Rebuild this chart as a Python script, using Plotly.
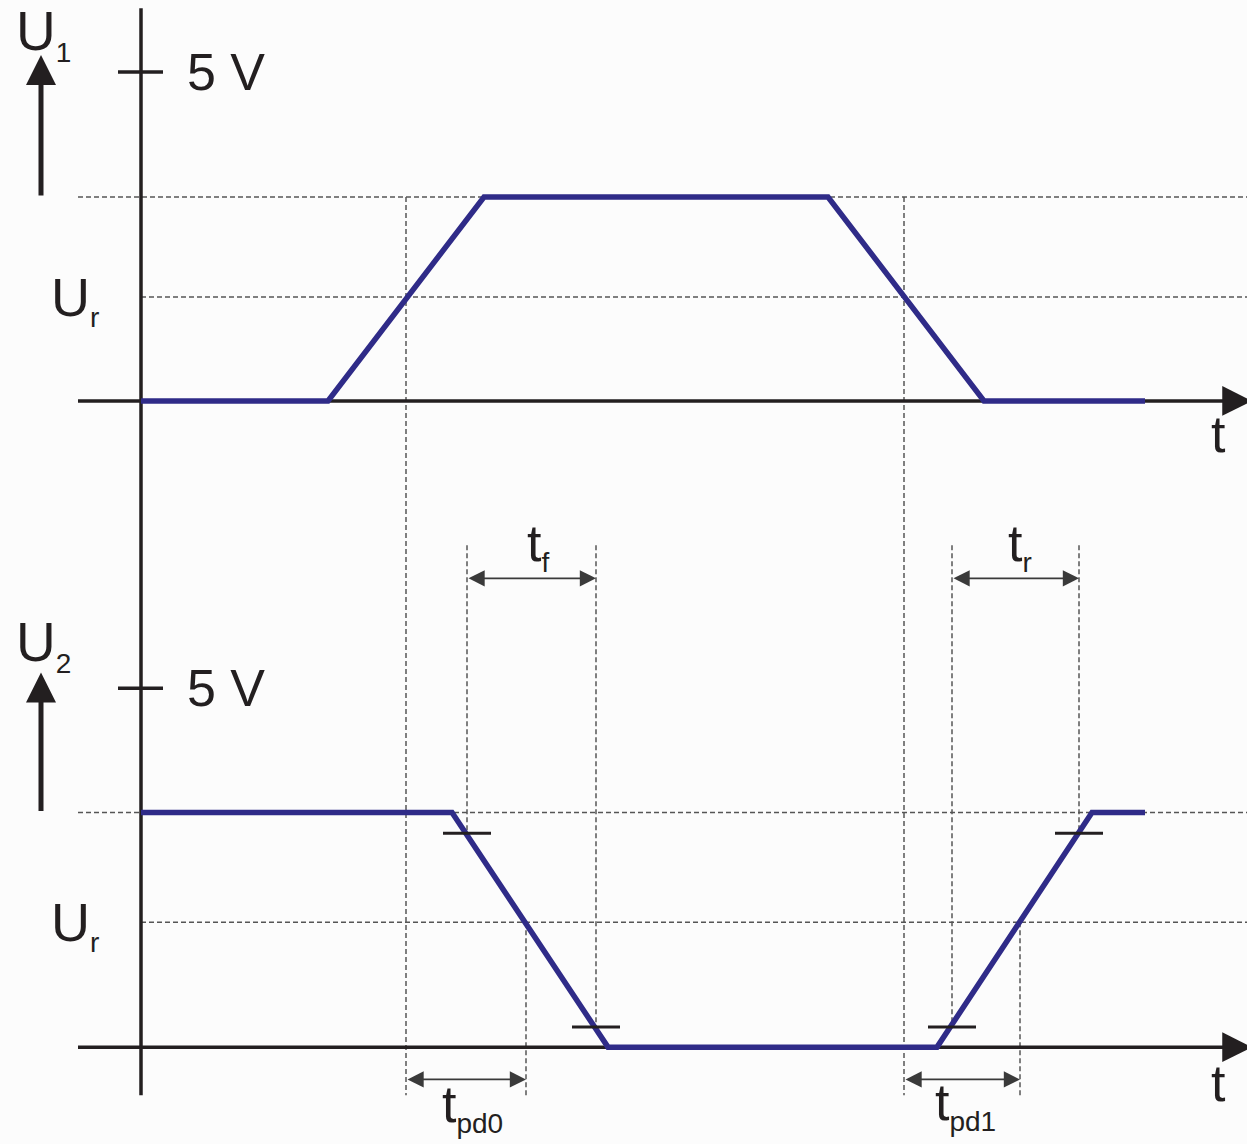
import plotly.graph_objects as go

# waveform data (time in arbitrary units, voltage in V)
T_TOP = [0, 1.87, 3.43, 6.87, 8.43, 10.04]
U1 = [0, 0, 3.1, 3.1, 0, 0]
T_BOT = [0, 3.11, 4.67, 7.96, 9.51, 10.04]
U2 = [3.27, 3.27, 0, 0, 3.27, 3.27]

U1_HIGH = 3.1
U1_REF = 1.58
U2_HIGH = 3.27
U2_REF = 1.74
U_MAX = 5
U2_90 = 2.98
U2_10 = 0.28

# crossing times
T_U1_CROSS = [2.65, 7.63]           # U1 passes Ur
T_U2_CROSS = [3.85, 8.79]           # U2 passes Ur
T_FALL = [3.26, 4.55]               # t_f: 90% -> 10%
T_RISE = [8.11, 9.38]               # t_r: 10% -> 90%
T_PD0 = [T_U1_CROSS[0], T_U2_CROSS[0]]
T_PD1 = [T_U1_CROSS[1], T_U2_CROSS[1]]

# both panels share one axis; lower panel is offset and scaled
BOT_ZERO = -9.82
BOT_GAIN = 1.091


def yb(v):
    return BOT_ZERO + BOT_GAIN * v


WAVE = '#2f2b88'
BLACK = '#231f20'
DASHC = '#555555'
GREY_ARROW = '#3a3a3a'
FONT = 'Liberation Sans, Arial, sans-serif'

X_LEFT = -0.63
X_RIGHT = 11.06

fig = go.Figure()

fig.add_trace(go.Scatter(x=T_TOP, y=U1, mode='lines',
                         line=dict(color=WAVE, width=5.5),
                         hoverinfo='skip', showlegend=False))
fig.add_trace(go.Scatter(x=T_BOT, y=[yb(v) for v in U2], mode='lines',
                         line=dict(color=WAVE, width=5.5),
                         hoverinfo='skip', showlegend=False))

shapes = []


def dashed(x0, y0, x1, y1):
    shapes.append(dict(type='line', x0=x0, y0=y0, x1=x1, y1=y1,
                       xref='x', yref='y', layer='below',
                       line=dict(color=DASHC, width=1.5, dash='5px,3px')))


def solid(x0, y0, x1, y1, width=3.5, layer='below'):
    shapes.append(dict(type='line', x0=x0, y0=y0, x1=x1, y1=y1,
                       xref='x', yref='y', layer=layer,
                       line=dict(color=BLACK, width=width)))


# horizontal guide lines
dashed(X_LEFT, U1_HIGH, X_RIGHT, U1_HIGH)
dashed(0, U1_REF, X_RIGHT, U1_REF)
dashed(X_LEFT, yb(U2_HIGH), X_RIGHT, yb(U2_HIGH))
dashed(0, yb(U2_REF), X_RIGHT, yb(U2_REF))

# vertical guide lines
ARROW_TOP_V = 6.53      # level of t_f / t_r arrows (lower panel volts)
GUIDE_TOP_V = 6.99
ARROW_BOT_V = -0.45     # level of t_pd arrows
GUIDE_BOT_V = -0.67
for t in T_U1_CROSS:
    dashed(t, U1_HIGH, t, yb(GUIDE_BOT_V))
for t in T_U2_CROSS:
    dashed(t, yb(U2_REF), t, yb(GUIDE_BOT_V))
dashed(T_FALL[0], yb(GUIDE_TOP_V), T_FALL[0], yb(U2_90))
dashed(T_FALL[1], yb(GUIDE_TOP_V), T_FALL[1], yb(U2_10))
dashed(T_RISE[0], yb(GUIDE_TOP_V), T_RISE[0], yb(U2_10))
dashed(T_RISE[1], yb(GUIDE_TOP_V), T_RISE[1], yb(U2_90))

# axes
solid(0, 5.97, 0, yb(GUIDE_BOT_V))
solid(X_LEFT, 0, X_RIGHT - 0.1, 0)
solid(X_LEFT, yb(0), X_RIGHT - 0.1, yb(0))
solid(-0.23, U_MAX, 0.22, U_MAX)
solid(-0.23, yb(U_MAX), 0.22, yb(U_MAX))

# 10% / 90% marks on U2
for t, v in [(T_FALL[0], U2_90), (T_FALL[1], U2_10),
             (T_RISE[0], U2_10), (T_RISE[1], U2_90)]:
    solid(t - 0.24, yb(v), t + 0.24, yb(v), width=3, layer='above')

annotations = []


def arrow(x, y, ax, ay, color, width, size, both=False):
    annotations.append(dict(x=x, y=y, ax=ax, ay=ay, xref='x', yref='y',
                            axref='x', ayref='y', text='', showarrow=True,
                            arrowhead=2, arrowwidth=width, arrowsize=size,
                            arrowcolor=color,
                            arrowside='end+start' if both else 'end'))


def label(x, y, text, size, anchor='center'):
    annotations.append(dict(x=x, y=y, xref='x', yref='y', text=text,
                            showarrow=False, xanchor=anchor, yanchor='middle',
                            font=dict(family=FONT, size=size, color=BLACK)))


# time axis arrowheads
arrow(X_RIGHT + 0.05, 0, X_RIGHT - 0.2, 0, BLACK, 3.5, 1.7)
arrow(X_RIGHT + 0.05, yb(0), X_RIGHT - 0.2, yb(0), BLACK, 3.5, 1.7)

# voltage arrows
arrow(-1.0, 5.26, -1.0, U1_HIGH, BLACK, 5, 1.2)
arrow(-1.0, yb(5.22), -1.0, yb(U2_HIGH), BLACK, 5, 1.2)

# timing arrows
arrow(T_FALL[1], yb(ARROW_TOP_V), T_FALL[0], yb(ARROW_TOP_V), GREY_ARROW, 1.8, 1.8, True)
arrow(T_RISE[1], yb(ARROW_TOP_V), T_RISE[0], yb(ARROW_TOP_V), GREY_ARROW, 1.8, 1.8, True)
arrow(T_PD0[1], yb(ARROW_BOT_V), T_PD0[0], yb(ARROW_BOT_V), GREY_ARROW, 1.8, 1.8, True)
arrow(T_PD1[1], yb(ARROW_BOT_V), T_PD1[0], yb(ARROW_BOT_V), GREY_ARROW, 1.8, 1.8, True)

SUB = '<sub><span style="font-size:28px">{}</span></sub>'

label(-0.98, 5.57, 'U' + SUB.format('1'), 55)
label(-0.98, yb(5.6), 'U' + SUB.format('2'), 55)
label(0.44, U_MAX, '5 V', 52, 'left')
label(0.44, yb(U_MAX), '5 V', 52, 'left')
label(-0.4, U1_REF - 0.04, 'U' + SUB.format('r'), 54, 'right')
label(-0.4, yb(U2_REF - 0.04), 'U' + SUB.format('r'), 54, 'right')
label(10.77, -0.5, 't', 52)
label(10.77, yb(-0.5), 't', 52)
label(3.97, yb(6.98), 't' + SUB.format('f'), 52)
label(8.79, yb(6.98), 't' + SUB.format('r'), 52)
label(3.31, yb(-0.83), 't' + SUB.format('pd0'), 52)
label(8.24, yb(-0.8), 't' + SUB.format('pd1'), 52)

fig.update_layout(
    width=1247, height=1144, autosize=False,
    margin=dict(l=0, r=0, t=0, b=0),
    paper_bgcolor='#fcfcfc', plot_bgcolor='#fcfcfc',
    shapes=shapes, annotations=annotations,
    xaxis=dict(range=[-1.41, 11.06], visible=False, fixedrange=True),
    yaxis=dict(range=[-11.292, 6.094], visible=False, fixedrange=True),
    showlegend=False,
)

fig.write_html("out.html", config={'displayModeBar': False},
               post_script="document.body.style.margin='0';"
                           "document.body.style.overflow='hidden';")
